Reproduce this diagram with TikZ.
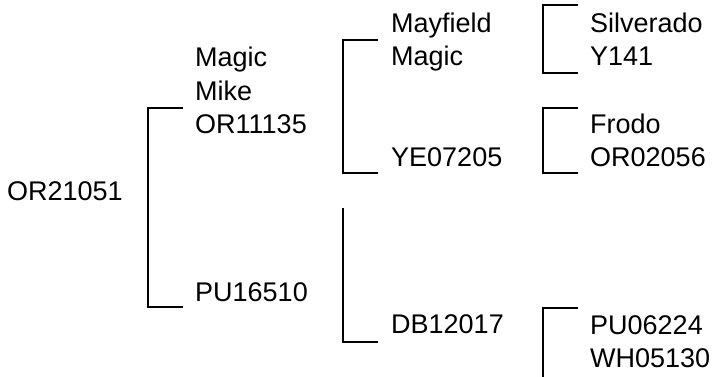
\documentclass[tikz,border=0pt]{standalone}
\usepackage{fontspec}
\setmainfont{Liberation Sans}
\newcommand\lbl[1]{\begin{tabular}[t]{@{}l@{}}#1\end{tabular}}
\begin{document}
\begin{tikzpicture}[x=1pt,y=-1pt,
  txt/.style={anchor=base west,inner sep=0pt,font=\fontsize{27}{33.5}\selectfont},
  brk/.style={line width=2pt,line join=miter,line cap=butt}]
\useasboundingbox (0,0) rectangle (714,376);
% labels
\node[txt] (n0) at (7,200) {OR21051};
\node[txt] (n1) at (195,66.5) {\lbl{Magic\\Mike\\OR11135}};
\node[txt] (n2) at (195,301) {PU16510};
\node[txt] (n11) at (391,32) {\lbl{Mayfield\\Magic}};
\node[txt] (n12) at (391,166) {YE07205};
\node[txt] (n22) at (391,333) {DB12017};
\node[txt] (n111) at (590,32) {\lbl{Silverado\\Y141}};
\node[txt] (n121) at (590,133) {\lbl{Frodo\\OR02056}};
\node[txt] (n221) at (590,334) {\lbl{PU06224\\WH05130}};
% bracket corners
\coordinate (b1a) at (183,108); \coordinate (b1b) at (148,108);
\coordinate (b1c) at (148,307); \coordinate (b1d) at (183,307);
\coordinate (b2a) at (378,40);  \coordinate (b2b) at (343,40);
\coordinate (b2c) at (343,173); \coordinate (b2d) at (378,173);
\coordinate (b3b) at (343,208);
\coordinate (b3c) at (343,342); \coordinate (b3d) at (378,342);
\coordinate (b4a) at (578,5);   \coordinate (b4b) at (543,5);
\coordinate (b4c) at (543,72.5);\coordinate (b4d) at (578,72.5);
\coordinate (b5a) at (578,108); \coordinate (b5b) at (543,108);
\coordinate (b5c) at (543,173); \coordinate (b5d) at (578,173);
\coordinate (b6a) at (578,308); \coordinate (b6b) at (543,308);
\coordinate (b6c) at (543,380);
\draw[brk] (b1a) -- (b1b) -- (b1c) -- (b1d);
\draw[brk] (b2a) -- (b2b) -- (b2c) -- (b2d);
\draw[brk] (b3b) -- (b3c) -- (b3d);
\draw[brk] (b4a) -- (b4b) -- (b4c) -- (b4d);
\draw[brk] (b5a) -- (b5b) -- (b5c) -- (b5d);
\draw[brk] (b6a) -- (b6b) -- (b6c);
\end{tikzpicture}
\end{document}
